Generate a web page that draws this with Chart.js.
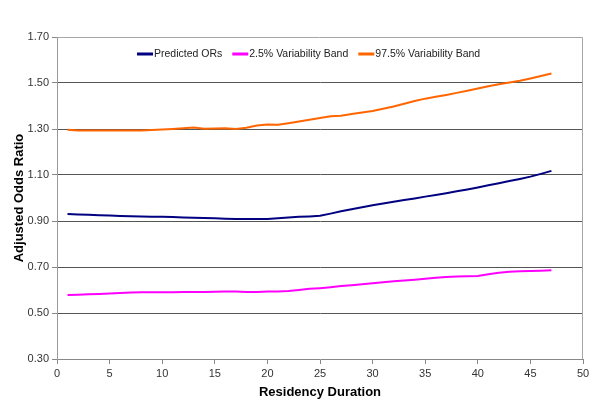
<!DOCTYPE html>
<html>
<head>
<meta charset="utf-8">
<script src="https://cdn.jsdelivr.net/npm/chart.js@4"></script>
<style>
  body { margin: 0; background: #fff; }
  canvas { display: block; }
</style>
</head>
<body>
<canvas id="or-chart" width="600" height="410"></canvas>
<script>
// residency duration (x) and the three series
const durations = [1, 2, 3, 4, 5, 6, 7, 8, 9, 10, 11, 12, 13, 14, 15, 16, 17, 18, 19, 20, 21, 22, 23, 24,
    25, 26, 27, 28, 29, 30, 31, 32, 33, 34, 35, 36, 37, 38, 39, 40, 41, 42, 43, 44, 45, 46, 47];

const predictedORs = [0.930, 0.928, 0.927, 0.925, 0.924, 0.922, 0.921, 0.920, 0.919, 0.918, 0.917, 0.915,
    0.914, 0.913, 0.912, 0.910, 0.909, 0.909, 0.909, 0.909, 0.912, 0.915, 0.918, 0.920, 0.923, 0.932,
    0.942, 0.951, 0.960, 0.968, 0.976, 0.984, 0.991, 0.998, 1.006, 1.013, 1.021, 1.029, 1.037, 1.046,
    1.055, 1.064, 1.074, 1.083, 1.093, 1.105, 1.118];

const lowerBand = [0.578, 0.579, 0.581, 0.583, 0.585, 0.587, 0.589, 0.590, 0.590, 0.590, 0.590, 0.591,
    0.591, 0.591, 0.592, 0.594, 0.593, 0.591, 0.591, 0.593, 0.594, 0.596, 0.600, 0.605, 0.608, 0.612,
    0.617, 0.621, 0.625, 0.629, 0.634, 0.638, 0.641, 0.645, 0.649, 0.653, 0.657, 0.659, 0.660, 0.661,
    0.668, 0.675, 0.679, 0.681, 0.683, 0.684, 0.686];

const upperBand = [1.297, 1.293, 1.293, 1.293, 1.293, 1.293, 1.293, 1.293, 1.296, 1.298, 1.300, 1.303,
    1.307, 1.301, 1.302, 1.303, 1.300, 1.305, 1.315, 1.320, 1.318, 1.325, 1.333, 1.340, 1.348, 1.355,
    1.358, 1.365, 1.372, 1.378, 1.388, 1.398, 1.410, 1.422, 1.432, 1.440, 1.448, 1.457, 1.466, 1.476,
    1.486, 1.495, 1.502, 1.510, 1.520, 1.530, 1.541];

const seriesLabels = ["Predicted ORs", "2.5% Variability Band", "97.5% Variability Band"];
const seriesColors = ["#000080", "#ff00ff", "#ff6600"];
const yTicks = [0.30, 0.50, 0.70, 0.90, 1.10, 1.30, 1.50, 1.70];
const xTicks = [0, 5, 10, 15, 20, 25, 30, 35, 40, 45, 50];

const FONT = "'Liberation Sans', Arial, sans-serif";

function toPoints(values) {
    return values.map((v, i) => ({ x: durations[i], y: v }));
}

// plot frame (top / right edges) and the legend sitting inside the plot
const framePlugin = {
    id: "frame",
    beforeDatasetsDraw(chart) {
        const { ctx, chartArea: a } = chart;
        ctx.save();
        ctx.strokeStyle = "#a6a6a6";
        ctx.lineWidth = 1;
        ctx.beginPath();
        ctx.moveTo(a.left, a.top + 0.5);
        ctx.lineTo(a.right - 0.5, a.top + 0.5);
        ctx.lineTo(a.right - 0.5, a.bottom);
        ctx.stroke();
        ctx.restore();
    },
    afterDatasetsDraw(chart) {
        const { ctx, chartArea: a } = chart;
        ctx.save();
        ctx.font = "10.5px " + FONT;
        ctx.textBaseline = "middle";
        ctx.fillStyle = "#222";
        let x = a.left + 80;
        const y = a.top + 17;
        chart.data.datasets.forEach(ds => {
            ctx.strokeStyle = ds.borderColor;
            ctx.lineWidth = 3;
            ctx.beginPath();
            ctx.moveTo(x, y);
            ctx.lineTo(x + 16, y);
            ctx.stroke();
            ctx.fillText(ds.label, x + 17, y);
            x += 17 + ctx.measureText(ds.label).width + 10;
        });
        ctx.restore();
    }
};

const canvas = document.getElementById("or-chart");
const orChart = new Chart(canvas, {
    type: "line",
    data: {
        datasets: [predictedORs, lowerBand, upperBand].map((vals, i) => ({
            label: seriesLabels[i],
            data: toPoints(vals),
            borderColor: seriesColors[i],
            backgroundColor: seriesColors[i],
            borderWidth: 2,
            pointRadius: 0,
            tension: 0
        }))
    },
    options: {
        responsive: false,
        animation: false,
        layout: { padding: { top: 37, right: 17, left: 0, bottom: 0 } },
        plugins: {
            legend: { display: false },
            tooltip: { enabled: false }
        },
        scales: {
            x: {
                type: "linear",
                min: xTicks[0],
                max: xTicks[xTicks.length - 1],
                afterFit: s => { s.height = 51; },
                afterBuildTicks: s => { s.ticks = xTicks.map(v => ({ value: v })); },
                grid: {
                    drawOnChartArea: false,
                    drawTicks: true,
                    tickLength: 5,
                    tickColor: "#888"
                },
                border: { color: "#888", width: 1 },
                ticks: {
                    padding: 3,
                    maxRotation: 0,
                    color: "#333",
                    font: { family: FONT, size: 11 }
                },
                title: {
                    display: true,
                    text: "Residency Duration",
                    color: "#000",
                    font: { family: FONT, size: 13, weight: "bold" },
                    padding: { top: 0, bottom: 10 }
                }
            },
            y: {
                min: yTicks[0],
                max: yTicks[yTicks.length - 1],
                afterFit: s => { s.width = 57; },
                afterBuildTicks: s => { s.ticks = yTicks.map(v => ({ value: v })); },
                grid: {
                    color: ctx => (ctx.index === 0 || ctx.index === yTicks.length - 1) ? "rgba(0,0,0,0)" : "#555",
                    tickColor: "#888",
                    tickLength: 5
                },
                border: { color: "#999", width: 1 },
                ticks: {
                    padding: 3,
                    color: "#333",
                    font: { family: FONT, size: 11 },
                    callback: v => v.toFixed(2)
                },
                title: {
                    display: true,
                    text: "Adjusted Odds Ratio",
                    color: "#000",
                    font: { family: FONT, size: 13, weight: "bold" },
                    padding: { top: 12, bottom: 0 }
                }
            }
        }
    },
    plugins: [framePlugin]
});
</script>
</body>
</html>
